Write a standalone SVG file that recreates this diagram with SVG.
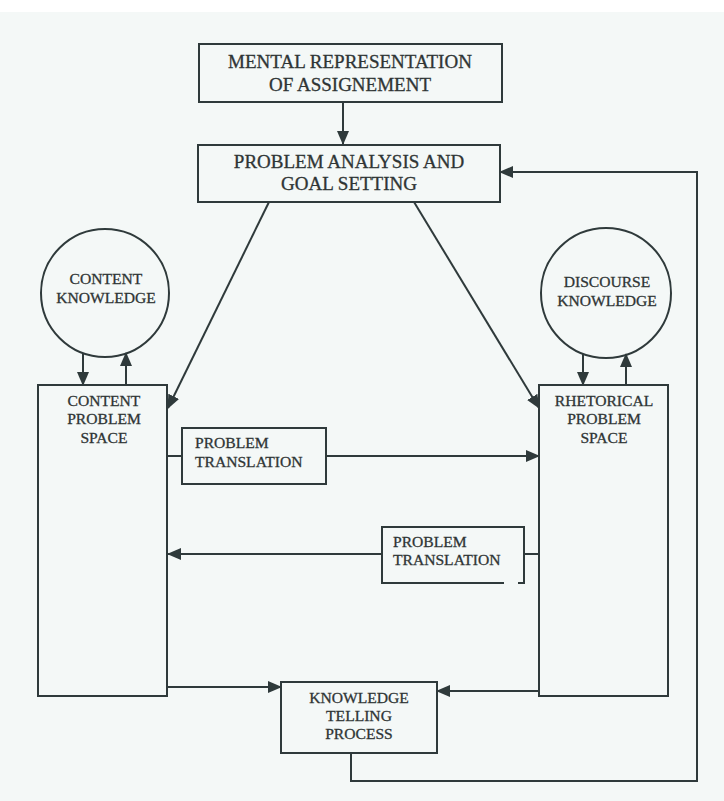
<svg xmlns="http://www.w3.org/2000/svg" width="724" height="801" viewBox="0 0 724 801">
<style>
.box{fill:none;stroke:#2f3a3b;stroke-width:2}
.ln{fill:none;stroke:#2f3a3b;stroke-width:2}
text{font-family:"Liberation Serif","Times New Roman",serif;fill:#2f3535;stroke:#2f3535;stroke-width:0.3}
.t19{font-size:19px;text-anchor:middle}
.t16{font-size:15.6px;text-anchor:middle}
.tl{font-size:15.6px}
</style>
<defs>
<marker id="ah" markerUnits="userSpaceOnUse" markerWidth="14" markerHeight="12" refX="13" refY="6" orient="auto">
<path d="M0,0 L14,6 L0,12 Z" fill="#2f3a3b"/>
</marker>
</defs>
<rect x="0" y="0" width="724" height="801" fill="#f4f8f7"/>
<rect x="0" y="0" width="724" height="12" fill="#ffffff"/>

<g id="connectors">
<line class="ln" x1="343" y1="102" x2="343" y2="144" marker-end="url(#ah)"/>
<line class="ln" x1="269" y1="202" x2="168" y2="408" marker-end="url(#ah)"/>
<line class="ln" x1="414" y1="202" x2="539" y2="408" marker-end="url(#ah)"/>
<line class="ln" x1="83" y1="353" x2="83" y2="385" marker-end="url(#ah)"/>
<line class="ln" x1="126" y1="385" x2="126" y2="353" marker-end="url(#ah)"/>
<line class="ln" x1="583" y1="354" x2="583" y2="385" marker-end="url(#ah)"/>
<line class="ln" x1="626" y1="385" x2="626" y2="354" marker-end="url(#ah)"/>
<line class="ln" x1="167" y1="456" x2="182" y2="456"/>
<line class="ln" x1="326" y1="456" x2="539" y2="456" marker-end="url(#ah)"/>
<line class="ln" x1="538" y1="554" x2="524" y2="554"/>
<line class="ln" x1="382" y1="554" x2="168" y2="554" marker-end="url(#ah)"/>
<line class="ln" x1="167" y1="687" x2="281" y2="687" marker-end="url(#ah)"/>
<line class="ln" x1="538" y1="691" x2="437" y2="691" marker-end="url(#ah)"/>
<polyline class="ln" points="351,753 351,781 697,781 697,172 500,172" marker-end="url(#ah)"/>
</g>

<g id="mental-representation">
<rect class="box" x="199" y="44" width="303" height="58"/>
<text class="t19" x="350" y="68">MENTAL REPRESENTATION</text>
<text class="t19" x="350" y="91">OF ASSIGNEMENT</text>
</g>

<g id="problem-analysis">
<rect class="box" x="198" y="145" width="302" height="57"/>
<text class="t19" x="349" y="168">PROBLEM ANALYSIS AND</text>
<text class="t19" x="349" y="190">GOAL SETTING</text>
</g>

<g id="content-knowledge">
<circle class="box" cx="105" cy="293" r="64"/>
<text class="t16" x="106" y="284">CONTENT</text>
<text class="t16" x="106" y="303">KNOWLEDGE</text>
</g>

<g id="discourse-knowledge">
<circle class="box" cx="606" cy="293" r="65"/>
<text class="t16" x="607" y="287">DISCOURSE</text>
<text class="t16" x="607" y="306">KNOWLEDGE</text>
</g>

<g id="content-problem-space">
<rect class="box" x="38" y="385" width="129" height="311"/>
<text class="t16" x="104" y="406">CONTENT</text>
<text class="t16" x="104" y="424">PROBLEM</text>
<text class="t16" x="104" y="443">SPACE</text>
</g>

<g id="rhetorical-problem-space">
<rect class="box" x="539" y="385" width="129" height="311"/>
<text class="t16" x="604" y="406">RHETORICAL</text>
<text class="t16" x="604" y="424">PROBLEM</text>
<text class="t16" x="604" y="443">SPACE</text>
</g>

<g id="problem-translation-1">
<rect class="box" x="182" y="428" width="144" height="56"/>
<text class="tl" x="195" y="448">PROBLEM</text>
<text class="tl" x="195" y="467">TRANSLATION</text>
</g>

<g id="problem-translation-2">
<polyline class="box" points="504,583 382,583 382,527 524,527 524,583 518,583"/>
<text class="tl" x="393" y="547">PROBLEM</text>
<text class="tl" x="393" y="565">TRANSLATION</text>
</g>

<g id="knowledge-telling">
<rect class="box" x="281" y="682" width="156" height="71"/>
<text class="t16" x="359" y="703">KNOWLEDGE</text>
<text class="t16" x="359" y="721">TELLING</text>
<text class="t16" x="359" y="739">PROCESS</text>
</g>
</svg>
